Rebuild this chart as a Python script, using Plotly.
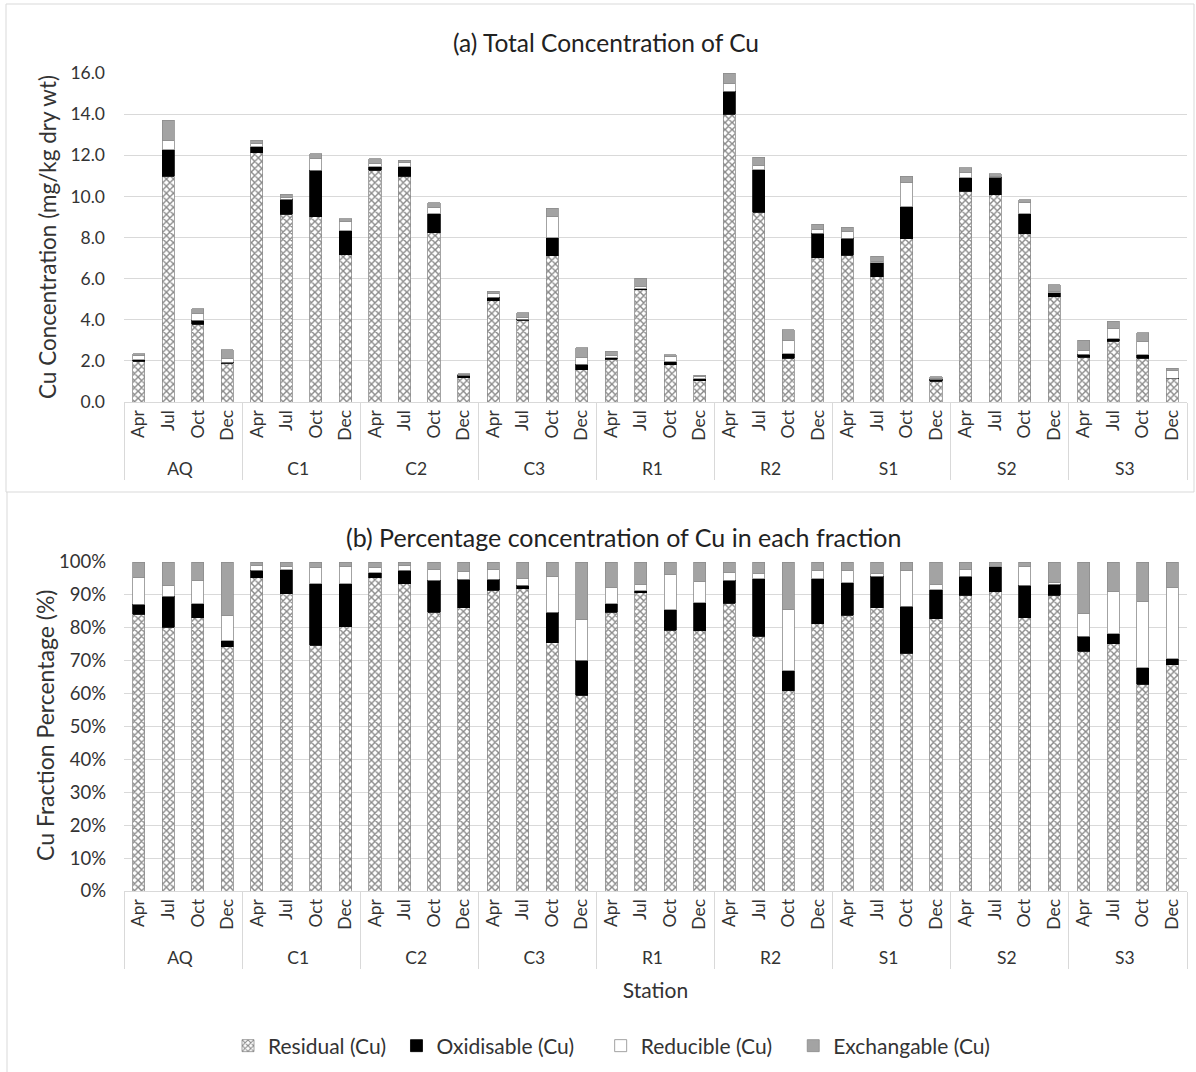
import plotly.graph_objects as go

stations = ["AQ", "C1", "C2", "C3", "R1", "R2", "S1", "S2", "S3"]
months = ["Apr", "Jul", "Oct", "Dec"]

# mg/kg dry wt, order: station-major, months Apr, Jul, Oct, Dec
residual = [1.976, 10.99, 3.773, 1.892,
            12.11, 9.13, 9.02, 7.17,
            11.26, 10.97, 8.22, 1.188,
            4.917, 3.988, 7.11, 1.565,
            2.086, 5.463, 1.822, 1.030,
            14.00, 9.22, 2.140, 7.02,
            7.13, 6.10, 7.93, 1.010,
            10.25, 10.09, 8.18, 5.13,
            2.187, 2.948, 2.116, 1.135]
oxidisable = [0.071, 1.288, 0.191, 0.046,
              0.293, 0.737, 2.259, 1.160,
              0.177, 0.482, 0.930, 0.119,
              0.178, 0.043, 0.886, 0.279,
              0.062, 0.036, 0.145, 0.109,
              1.104, 2.084, 0.215, 1.175,
              0.842, 0.673, 1.569, 0.107,
              0.650, 0.844, 0.964, 0.188,
              0.135, 0.118, 0.172, 0.030]
reducible = [0.195, 0.452, 0.322, 0.199,
             0.191, 0.101, 0.580, 0.455,
             0.177, 0.176, 0.320, 0.032,
             0.167, 0.095, 1.018, 0.326,
             0.121, 0.121, 0.246, 0.085,
             0.368, 0.191, 0.655, 0.207,
             0.315, 0.064, 1.174, 0.020,
             0.251, 0.022, 0.551, 0.040,
             0.207, 0.506, 0.677, 0.355]
exchangable = [0.108, 0.973, 0.254, 0.413,
               0.127, 0.131, 0.217, 0.134,
               0.213, 0.118, 0.223, 0.041,
               0.118, 0.213, 0.415, 0.460,
               0.192, 0.410, 0.087, 0.077,
               0.528, 0.417, 0.510, 0.233,
               0.221, 0.248, 0.296, 0.083,
               0.251, 0.144, 0.148, 0.348,
               0.471, 0.349, 0.404, 0.130]

names = ["Residual (Cu)", "Oxidisable (Cu)", "Reducible (Cu)", "Exchangable (Cu)"]
series = [residual, oxidisable, reducible, exchangable]
legend_pad = [1, 4, 3, 0]   # extra gap after each legend entry (in spaces)

W, H = 1196, 1072
FONT = "Lato"
TXT = "#333333"

xcat = [[s for s in stations for m in months], [m for s in stations for m in months]]
totals = [sum(v) for v in zip(*series)]


def style(i):
    if i == 0:
        return dict(color="white", line=dict(color="#8c8c8c", width=0.8),
                    pattern=dict(shape="x", fgcolor="#111111", bgcolor="white",
                                 size=5, solidity=0.48))
    if i == 1:
        return dict(color="black", line=dict(color="black", width=0.8))
    if i == 2:
        return dict(color="white", line=dict(color="#8c8c8c", width=0.8))
    return dict(color="#a3a3a3", line=dict(color="#8c8c8c", width=0.8))


fig = go.Figure()
for i, (nm, vals) in enumerate(zip(names, series)):
    fig.add_trace(go.Bar(x=xcat, y=vals, name=nm + "\u00a0" * legend_pad[i],
                         marker=style(i), xaxis="x", yaxis="y", showlegend=True))
for i, (nm, vals) in enumerate(zip(names, series)):
    pct = [v / t * 100 for v, t in zip(vals, totals)]
    fig.add_trace(go.Bar(x=xcat, y=pct, name=nm, marker=style(i),
                         xaxis="x2", yaxis="y2", showlegend=False))


def px_x(p):
    return p / W


def px_y(p):
    return 1 - p / H


def ann(text, x, y, size, angle=0, color=TXT):
    return dict(text=text, x=px_x(x), y=px_y(y), xref="paper", yref="paper",
                showarrow=False, textangle=angle, xanchor="center", yanchor="middle",
                font=dict(family=FONT, size=size, color=color))


xdom = [px_x(124), px_x(1187)]
axis_x = dict(type="multicategory", domain=xdom, showline=True, linecolor="#d9d9d9",
              linewidth=1, showgrid=False, tickangle=-90, ticks="", automargin=False,
              tickfont=dict(family=FONT, size=17.5, color=TXT),
              showdividers=True, dividercolor="#d9d9d9", dividerwidth=1)
fig.update_layout(
    width=W, height=H, margin=dict(l=0, r=0, t=0, b=0, autoexpand=False),
    paper_bgcolor="white", plot_bgcolor="white",
    barmode="stack", bargap=0.59,
    font=dict(family=FONT, color=TXT),
    xaxis=dict(axis_x, anchor="y"),
    yaxis=dict(domain=[px_y(402), px_y(73)], range=[0, 16], dtick=2,
               tickformat=".1f", showgrid=True, gridcolor="#d9d9d9", gridwidth=1,
               zeroline=False, showline=False, ticklabelstandoff=18, automargin=False,
               tickfont=dict(family=FONT, size=17.5, color=TXT), anchor="x"),
    xaxis2=dict(axis_x, anchor="y2",
                title=dict(text="Station", font=dict(family=FONT, size=21, color=TXT),
                           standoff=16)),
    yaxis2=dict(domain=[px_y(891), px_y(562)], range=[0, 100], dtick=10,
                ticksuffix="%", showgrid=True, gridcolor="#d9d9d9", gridwidth=1,
                zeroline=False, showline=False, ticklabelstandoff=17, automargin=False,
                tickfont=dict(family=FONT, size=18.5, color=TXT), anchor="x2"),
    legend=dict(orientation="h", x=px_x(228), xanchor="left", y=px_y(1046),
                yanchor="middle", font=dict(family=FONT, size=21, color=TXT),
                traceorder="normal"),
    annotations=[
        ann("(a) Total Concentration of Cu", 606, 42, 24.5, color="#222"),
        ann("(b) Percentage concentration of Cu in each fraction", 623, 537, 25,
            color="#222"),
        ann("Cu Concentration (mg/kg dry wt)", 47, 237, 22.5, angle=-90),
        ann("Cu Fraction Percentage (%)", 45, 726, 23, angle=-90),
    ],
    shapes=[
        dict(type="rect", xref="paper", yref="paper", x0=px_x(6), x1=px_x(1194),
             y0=px_y(492), y1=px_y(4), line=dict(color="#d9d9d9", width=1)),
        dict(type="line", xref="paper", yref="paper", x0=px_x(7), x1=px_x(7),
             y0=px_y(1072), y1=px_y(492), line=dict(color="#d9d9d9", width=1)),
    ],
)

fig.write_html("out.html", config={"displayModeBar": False},
               post_script="document.body.style.margin='0';"
                           "document.body.style.overflow='hidden';")
